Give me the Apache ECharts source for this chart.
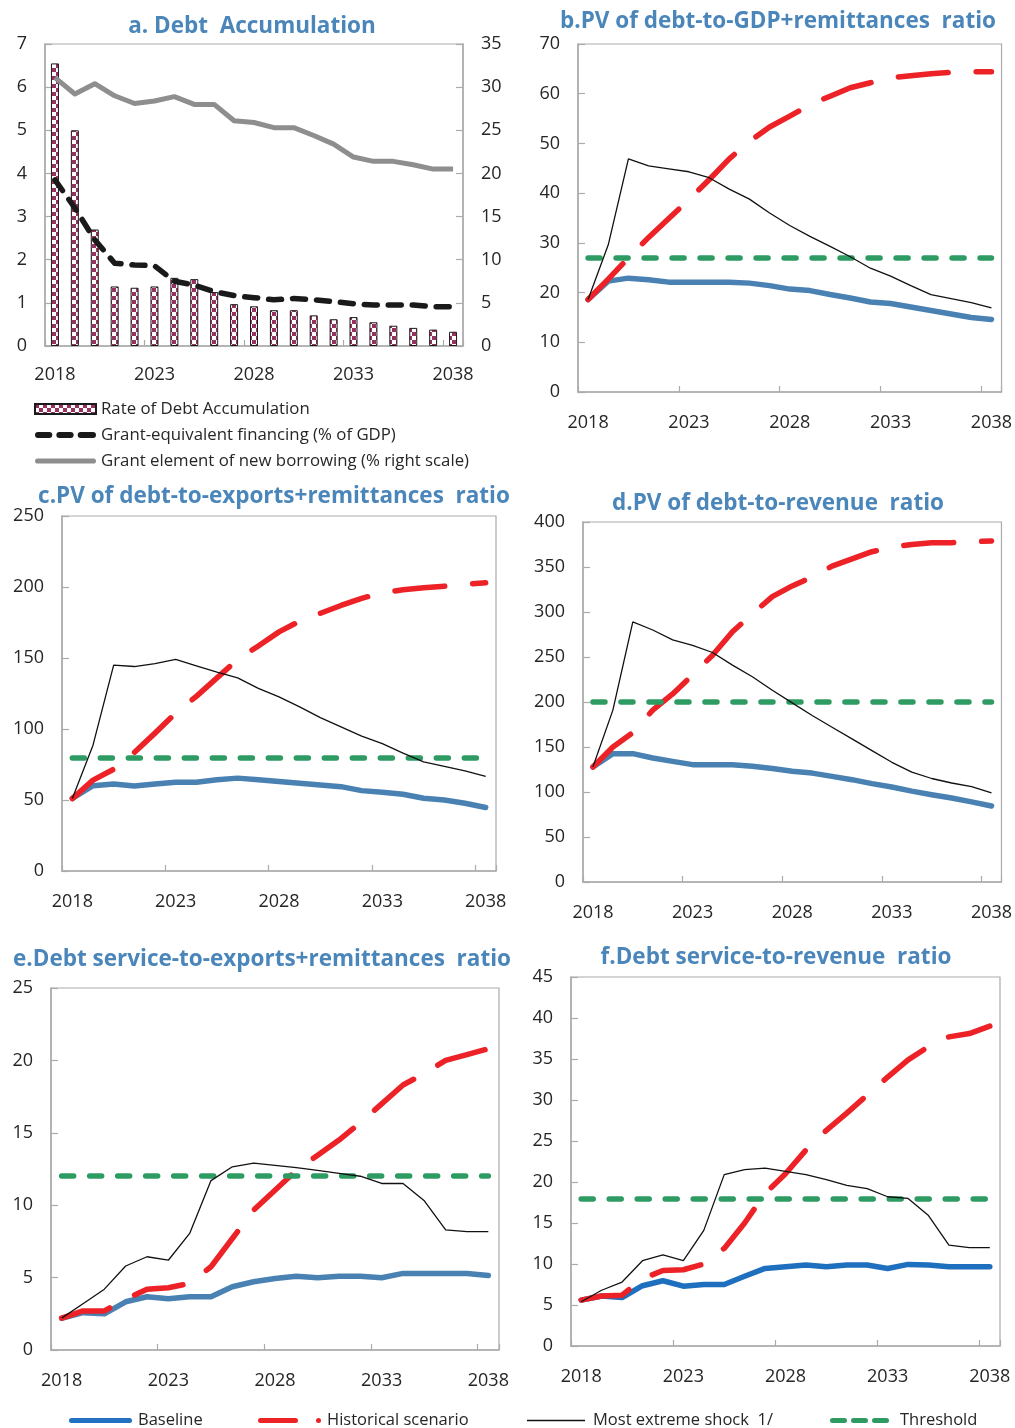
<!DOCTYPE html>
<html>
<head>
<meta charset="utf-8">
<title>Debt sustainability charts</title>
<script src="https://cdn.jsdelivr.net/npm/echarts@6/dist/echarts.min.js"></script>
<style>
  html, body { margin: 0; padding: 0; background: #ffffff; }
  #chart { width: 1015px; height: 1428px; }
</style>
</head>
<body>
<div id="chart"></div>
<script>
// ---- categories ----
const years = ['2018','2019','2020','2021','2022','2023','2024','2025','2026','2027','2028',
               '2029','2030','2031','2032','2033','2034','2035','2036','2037','2038'];

// ---- a. Debt accumulation ----
const aDebtAccum = [6.55,5.0,2.7,1.38,1.35,1.38,1.58,1.55,1.25,0.97,0.92,0.83,0.83,0.71,0.62,0.67,0.55,0.47,0.42,0.38,0.33];
const aGrantEquiv = [3.85,3.2,2.46,1.92,1.88,1.86,1.5,1.41,1.26,1.17,1.12,1.07,1.1,1.07,1.03,0.98,0.95,0.95,0.95,0.91,0.91];
const aGrantElem = [31.1,29.2,30.4,29.0,28.1,28.4,28.9,28.0,28.0,26.1,25.9,25.3,25.3,24.4,23.4,21.9,21.4,21.4,21.0,20.5,20.5];

// ---- b. PV of debt-to-GDP+remittances ----
const bBaseline = [18.6,22.3,22.9,22.6,22.1,22.1,22.1,22.1,21.9,21.4,20.7,20.4,19.6,18.9,18.1,17.8,17.1,16.4,15.7,15.0,14.6];
const bHistorical = [18.6,22.7,27.0,31.1,34.9,38.7,42.7,46.9,50.4,53.3,55.5,57.8,59.5,61.2,62.2,63.2,63.6,64.0,64.3,64.4,64.4];
const bShock = [18.6,29.6,46.9,45.5,44.9,44.3,43.1,40.8,38.8,36.0,33.5,31.3,29.3,27.2,24.9,23.3,21.4,19.6,18.8,18.0,16.9];
const bThreshold = 27;

// ---- c. PV of debt-to-exports+remittances ----
const cBaseline = [51.2,60.1,61.3,59.9,61.3,62.5,62.5,64.2,65.4,64.2,63.0,61.8,60.6,59.4,56.6,55.5,54.0,51.2,50.0,47.7,44.7];
const cHistorical = [51,64,71.7,83.5,97.1,111.2,123,136,149,158.5,168.4,176,181.5,187,192,196,198,199.5,200.6,201.8,203];
const cShock = [51,88.6,145,144,146,149,144.5,140,136,128.6,122.6,115.6,108,101.5,95,89.7,83,76.8,73.7,70.5,66.7];
const cThreshold = 80;

// ---- d. PV of debt-to-revenue ----
const dBaseline = [127.8,142.6,142.6,137.8,134,130.4,130.4,130.4,128.5,126,123,121,117.4,113.7,109.3,105.6,101,97,93.3,89,84.4];
const dHistorical = [127.8,150,166,191,209,230,252,278,298,317,329,339,351,359,367,372,375,377,377,378,379];
const dShock = [128,191,289,280,269,263,255,241,228,213,199,185,172,159,146,133,122,115,110,106,99];
const dThreshold = 200;

// ---- e. Debt service-to-exports+remittances ----
const eBaseline = [2.19,2.58,2.5,3.33,3.68,3.54,3.68,3.68,4.37,4.71,4.94,5.1,4.99,5.1,5.1,4.99,5.29,5.29,5.29,5.29,5.15];
const eHistorical = [2.2,2.7,2.7,3.5,4.2,4.3,4.6,5.75,7.7,9.66,11.04,12.4,13.45,14.5,15.7,17.0,18.3,19.1,20.0,20.4,20.8];
const eShock = [2.2,3.2,4.2,5.8,6.44,6.2,8.05,11.7,12.65,12.9,12.75,12.6,12.4,12.2,12.0,11.5,11.5,10.3,8.3,8.17,8.17];
const eThreshold = 12;

// ---- f. Debt service-to-revenue ----
const fBaseline = [5.6,6.1,5.9,7.35,7.96,7.3,7.5,7.5,8.5,9.46,9.67,9.87,9.67,9.87,9.87,9.46,9.95,9.87,9.67,9.67,9.67];
const fHistorical = [5.6,6.1,6.2,8.2,9.2,9.3,10.0,11.9,15.0,18.6,21.0,23.9,26.3,28.4,30.6,32.8,34.9,36.5,37.7,38.1,39.0];
const fShock = [5.4,6.8,7.8,10.4,11.1,10.4,14.1,20.9,21.5,21.7,21.3,20.9,20.3,19.6,19.2,18.2,18.0,15.9,12.3,12.0,12.0];
const fThreshold = 18;

// ---- y axis ranges per panel ----
const yRanges = [
  { max: 7, interval: 1 },     // a left
  { max: 35, interval: 5 },    // a right
  { max: 70, interval: 10 },   // b
  { max: 250, interval: 50 },  // c
  { max: 400, interval: 50 },  // d
  { max: 25, interval: 5 },    // e
  { max: 45, interval: 5 }     // f
];

// ---- styling ----
const FONT = '"Open Sans", "Noto Sans", sans-serif';
const TITLE_COLOR = '#4a86ba';
const AXIS_GREY = '#ababab';
const LABEL_COLOR = '#262626';
const RED = '#ec2227';
const GREEN = '#2e9b63';
const STEEL = '#4a81b3';
const BRIGHT_BLUE = '#1f6fbf';
const MAROON = '#96325f';

// checkered fill for the debt-accumulation bars
function checkerPattern() {
  const c = document.createElement('canvas');
  c.width = 8; c.height = 8;
  const g = c.getContext('2d');
  g.fillStyle = '#ffffff';
  g.fillRect(0, 0, 8, 8);
  g.fillStyle = MAROON;
  g.fillRect(0, 0, 4, 4);
  g.fillRect(4, 4, 4, 4);
  return c;
}
const checker = { image: checkerPattern(), repeat: 'repeat' };

// plot rectangles of the six panels
const grids = [
  { left: 45,  top: 44,  width: 418, height: 302 },
  { left: 578, top: 44,  width: 425, height: 348 },
  { left: 62,  top: 516, width: 434, height: 355 },
  { left: 583, top: 522, width: 422, height: 360 },
  { left: 51,  top: 988, width: 448, height: 362 },
  { left: 571, top: 977, width: 429, height: 369 }
].map(g => Object.assign({ show: true, borderColor: AXIS_GREY, borderWidth: 1.2, backgroundColor: 'transparent', containLabel: false }, g));

const xAxes = grids.map((g, i) => ({
  type: 'category',
  gridIndex: i,
  data: years,
  boundaryGap: true,
  axisLine: { lineStyle: { color: AXIS_GREY, width: 1.5 } },
  axisTick: { show: true, inside: true, interval: 4, length: 6, lineStyle: { color: AXIS_GREY, width: 1.2 } },
  axisLabel: { interval: 4, margin: i === 0 ? 20 : 22, color: LABEL_COLOR, fontSize: 18, fontFamily: FONT },
  splitLine: { show: false }
}));

const yGrid = [0, 0, 1, 2, 3, 4, 5];
const yAxes = yRanges.map((r, i) => ({
  type: 'value',
  gridIndex: yGrid[i],
  position: i === 1 ? 'right' : 'left',
  min: 0,
  max: r.max,
  interval: r.interval,
  axisLine: { show: true, lineStyle: { color: AXIS_GREY, width: 1.5 } },
  axisTick: { show: true, inside: true, length: 7, lineStyle: { color: AXIS_GREY, width: 1.2 } },
  axisLabel: { margin: 18, color: LABEL_COLOR, fontSize: 18, fontFamily: FONT },
  splitLine: { show: false }
}));

const TITLE_SIZE = 22.5;
const titleStyle = { color: TITLE_COLOR, fontSize: TITLE_SIZE, fontWeight: 'bold', fontFamily: FONT };
const titles = [
  { text: 'a. Debt  Accumulation', x: 252, y: 24 },
  { text: 'b.PV of debt-to-GDP+remittances  ratio', x: 778, y: 19 },
  { text: 'c.PV of debt-to-exports+remittances  ratio', x: 274, y: 494 },
  { text: 'd.PV of debt-to-revenue  ratio', x: 778, y: 501 },
  { text: 'e.Debt service-to-exports+remittances  ratio', x: 262, y: 957 },
  { text: 'f.Debt service-to-revenue  ratio', x: 776, y: 955 }
].map(t => ({
  text: t.text,
  left: t.x, top: t.y - 9,
  textAlign: 'center',
  padding: 0,
  textStyle: titleStyle
}));

// one panel's four scenario series
function scenarioSeries(idx, base, hist, shock, threshold, baseColor) {
  const ax = { xAxisIndex: idx, yAxisIndex: idx + 1 };
  return [
    Object.assign({
      name: 'Threshold', type: 'line', data: [], symbol: 'none', z: 2,
      lineStyle: { color: GREEN }, itemStyle: { color: GREEN },
      markLine: {
        silent: true, symbol: 'none', label: { show: false },
        lineStyle: { color: GREEN, width: 5.5, type: [12, 16], cap: 'round' },
        emphasis: { disabled: true },
        data: [[{ coord: [years[0], threshold] }, { coord: [years[years.length - 1], threshold] }]]
      }
    }, ax),
    Object.assign({
      name: 'Baseline', type: 'line', data: base, symbol: 'none', z: 3,
      lineStyle: { color: baseColor, width: 5.5, cap: 'round', join: 'round' },
      itemStyle: { color: baseColor }
    }, ax),
    Object.assign({
      name: 'Historical scenario', type: 'line', data: hist, symbol: 'none', z: 4,
      lineStyle: { color: RED, width: 5.5, type: [50, 28], cap: 'round', join: 'round' },
      itemStyle: { color: RED }
    }, ax),
    Object.assign({
      name: 'Most extreme shock  1/', type: 'line', data: shock, symbol: 'none', z: 5,
      lineStyle: { color: '#111111', width: 1.3 },
      itemStyle: { color: '#111111' }
    }, ax)
  ];
}

const series = [
  {
    name: 'Rate of Debt Accumulation', type: 'bar', xAxisIndex: 0, yAxisIndex: 0,
    data: aDebtAccum, barWidth: 8, z: 2,
    itemStyle: { color: checker, borderColor: '#1a1a1a', borderWidth: 1 }
  },
  {
    name: 'Grant-equivalent financing (% of GDP)', type: 'line', xAxisIndex: 0, yAxisIndex: 0,
    data: aGrantEquiv, symbol: 'none', z: 4,
    lineStyle: { color: '#1a1a1a', width: 5.5, type: [13, 11], cap: 'round', join: 'round' },
    itemStyle: { color: '#1a1a1a' }
  },
  {
    name: 'Grant element of new borrowing (% right scale)', type: 'line', xAxisIndex: 0, yAxisIndex: 1,
    data: aGrantElem, symbol: 'none', z: 3,
    lineStyle: { color: '#8e8e8e', width: 5, join: 'round' },
    itemStyle: { color: '#8e8e8e' }
  }
].concat(
  scenarioSeries(1, bBaseline, bHistorical, bShock, bThreshold, STEEL),
  scenarioSeries(2, cBaseline, cHistorical, cShock, cThreshold, STEEL),
  scenarioSeries(3, dBaseline, dHistorical, dShock, dThreshold, STEEL),
  scenarioSeries(4, eBaseline, eHistorical, eShock, eThreshold, STEEL),
  scenarioSeries(5, fBaseline, fHistorical, fShock, fThreshold, BRIGHT_BLUE)
);

// legend icons
const iconBaseline = 'path://M2.5,0 H60.5 A2.5,2.5 0 0 1 60.5,5 H2.5 A2.5,2.5 0 0 1 2.5,0 Z';
const iconHistorical = 'path://M2.5,0 H37.5 A2.5,2.5 0 0 1 37.5,5 H2.5 A2.5,2.5 0 0 1 2.5,0 Z M60.5,0 A2.5,2.5 0 0 1 60.5,5 A2.5,2.5 0 0 1 60.5,0 Z';
const iconShock = 'path://M0,0 H58 V1.3 H0 Z';
const iconThreshold = 'path://M2.5,0 H14.5 A2.5,2.5 0 0 1 14.5,5 H2.5 A2.5,2.5 0 0 1 2.5,0 Z M23.5,0 H35.5 A2.5,2.5 0 0 1 35.5,5 H23.5 A2.5,2.5 0 0 1 23.5,0 Z M44.5,0 H56.5 A2.5,2.5 0 0 1 56.5,5 H44.5 A2.5,2.5 0 0 1 44.5,0 Z';
const iconBlackDash = 'path://M3,0 H14 A3,3 0 0 1 14,6 H3 A3,3 0 0 1 3,0 Z M24,0 H35 A3,3 0 0 1 35,6 H24 A3,3 0 0 1 24,0 Z M45,0 H57 A3,3 0 0 1 57,6 H45 A3,3 0 0 1 45,0 Z';
const iconGreyLine = 'path://M2.5,0 H57.5 A2.5,2.5 0 0 1 57.5,5 H2.5 A2.5,2.5 0 0 1 2.5,0 Z';

function keyItem(name, left, icon, color, w, h, gap) {
  return {
    left: left, top: 1412, padding: 0,
    itemWidth: w, itemHeight: h, selectedMode: false,
    textStyle: { color: LABEL_COLOR, fontSize: 16.5, fontFamily: FONT, padding: [0, 0, 0, gap] },
    data: [{ name: name, icon: icon, itemStyle: { color: color, borderWidth: 0 } }]
  };
}

const legends = [
  {
    left: 34, top: 399, orient: 'vertical', padding: 0, itemGap: 6,
    itemWidth: 61, itemHeight: 10, selectedMode: false,
    textStyle: { color: LABEL_COLOR, fontSize: 16.8, fontFamily: FONT, lineHeight: 20 },
    data: [
      { name: 'Rate of Debt Accumulation', icon: 'rect' },
      { name: 'Grant-equivalent financing (% of GDP)', icon: iconBlackDash, itemStyle: { color: '#1a1a1a', borderWidth: 0 } },
      { name: 'Grant element of new borrowing (% right scale)', icon: iconGreyLine, itemStyle: { color: '#8e8e8e', borderWidth: 0 } }
    ]
  },
  keyItem('Baseline', 69, iconBaseline, '#2272c3', 63, 5, 1),
  keyItem('Historical scenario', 258, iconHistorical, RED, 63, 5, 1),
  keyItem('Most extreme shock  1/', 527, iconShock, '#111111', 58, 1.3, 3),
  keyItem('Threshold', 830, iconThreshold, GREEN, 59, 5, 6)
];

const chart = echarts.init(document.getElementById('chart'), null, { renderer: 'canvas' });
chart.setOption({
  animation: false,
  backgroundColor: '#ffffff',
  title: titles,
  grid: grids,
  xAxis: xAxes,
  yAxis: yAxes,
  legend: legends,
  series: series
});
</script>
</body>
</html>
